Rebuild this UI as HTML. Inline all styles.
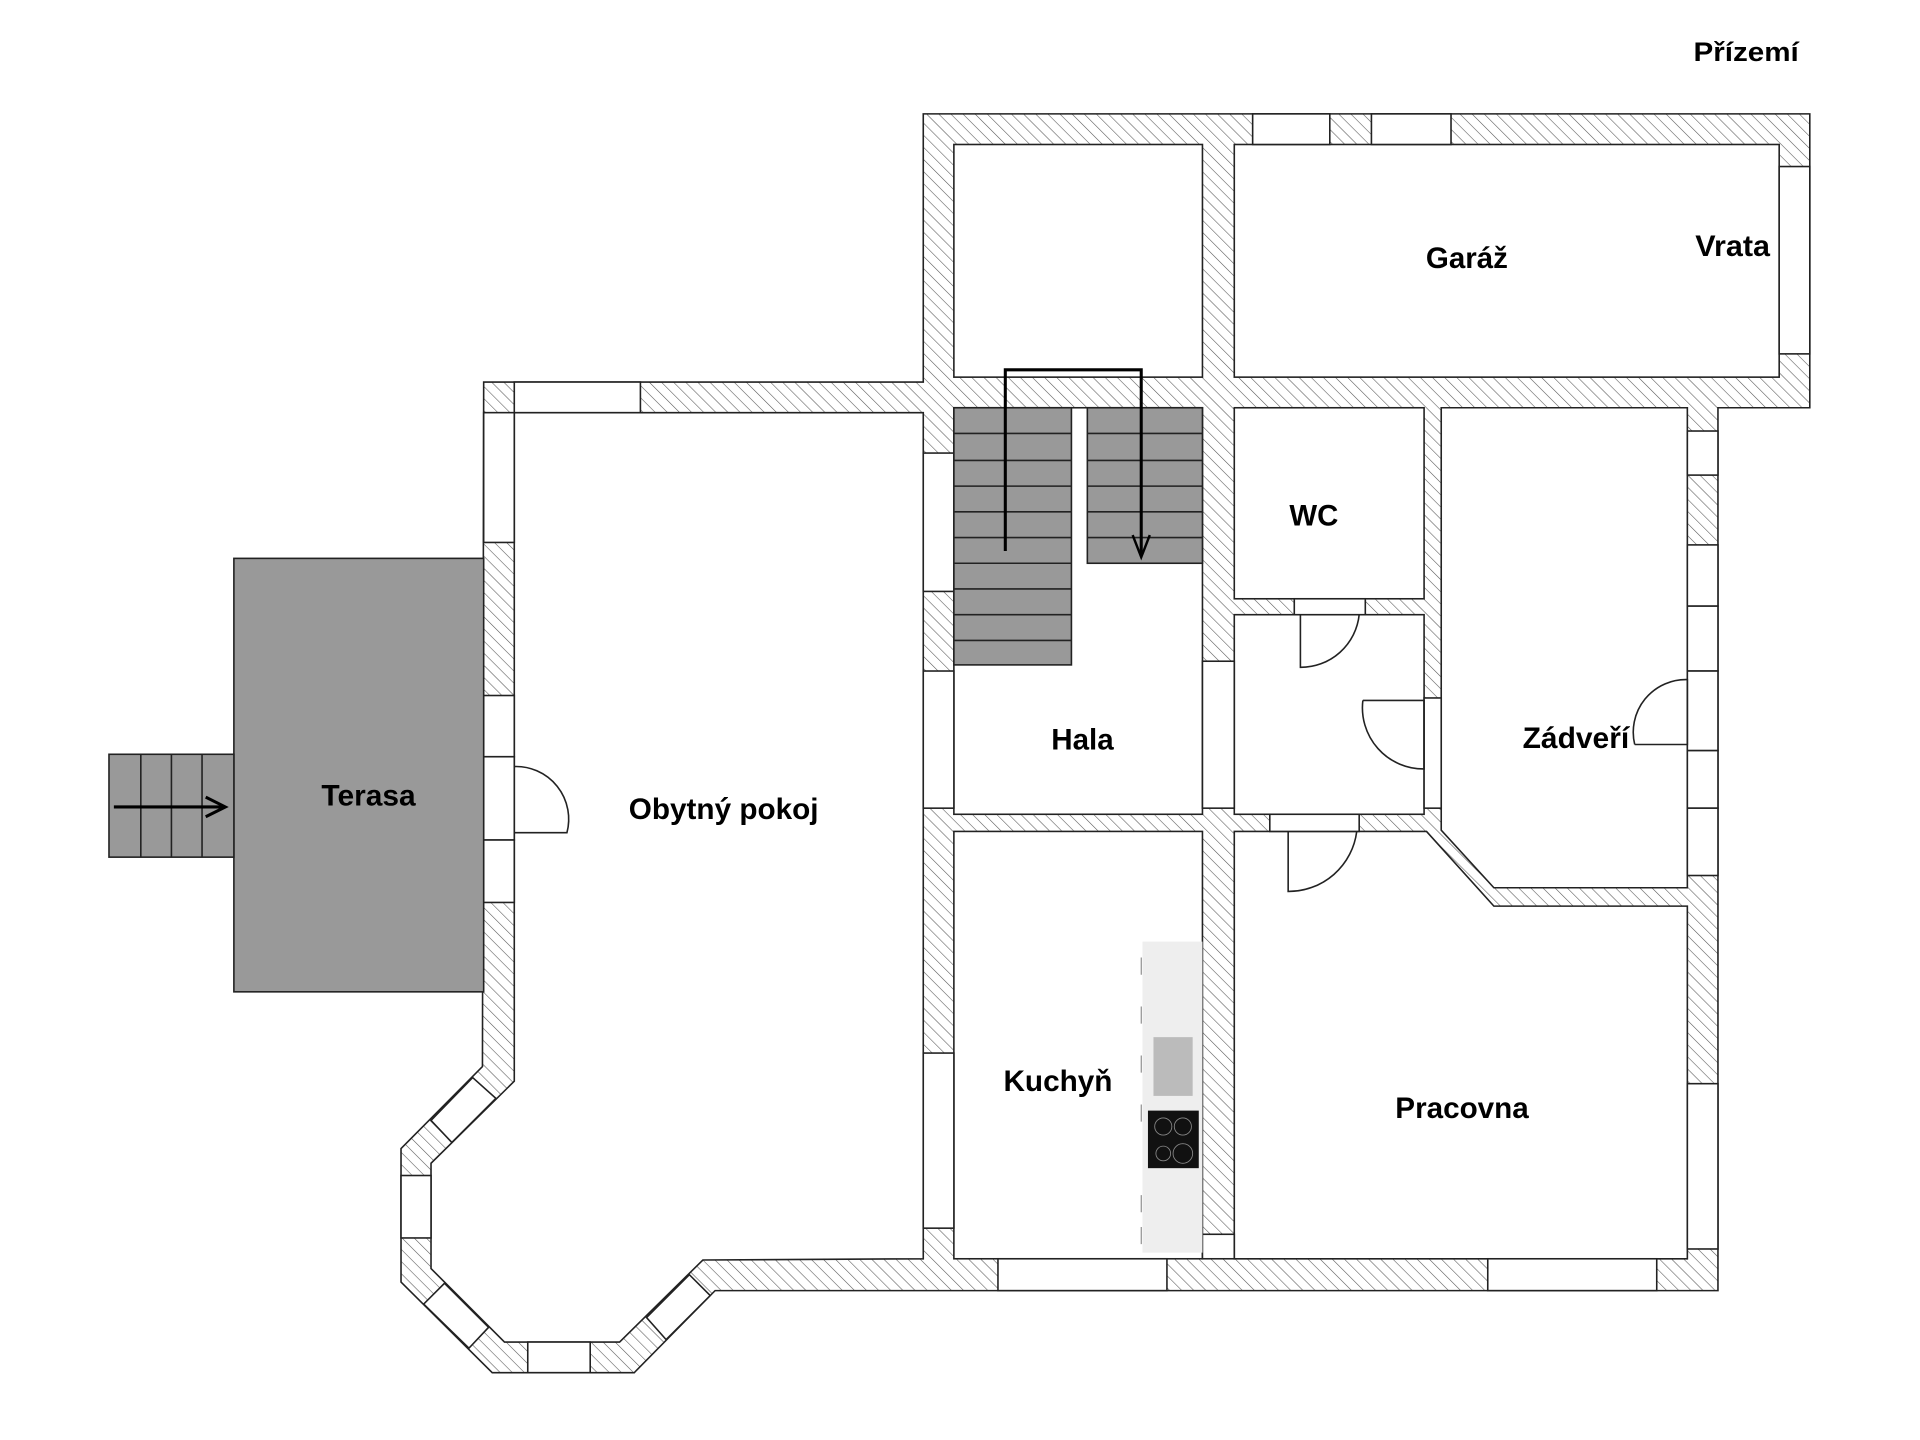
<!DOCTYPE html>
<html><head><meta charset="utf-8"><style>html,body{margin:0;padding:0;background:#fff}svg{display:block}</style></head><body>
<svg width="1920" height="1440" viewBox="0 0 1568 1176" preserveAspectRatio="none" xmlns="http://www.w3.org/2000/svg">
<defs><pattern id="h" width="7" height="7" patternUnits="userSpaceOnUse" patternTransform="rotate(-45)"><rect width="7" height="7" fill="#fff"/><line x1="0" y1="0" x2="0" y2="7" stroke="#555" stroke-width="0.9"/></pattern></defs>
<rect width="1568" height="1176" fill="#fff"/>
<g stroke="#222" stroke-width="1.3">
<polygon points="754,93 1478,93 1478,333 1403,333 1403,1054 584,1054 518,1121 402,1121 327.5,1047 327.5,938 394,871 395,312 754,312" fill="url(#h)"/>
<g fill="#fff">
<rect x="779" y="118" width="203" height="190"/>
<rect x="1008" y="118" width="445" height="190"/>
<polygon points="420,337 754,337 754,1028 574,1029 506,1096 412,1096 352,1036 352,950 420,883"/>
<rect x="779" y="333" width="203" height="332"/>
<rect x="1008" y="333" width="155" height="156"/>
<rect x="1008" y="502" width="155" height="163"/>
<polygon points="1177,333 1378,333 1378,725 1220,725 1177,678"/>
<rect x="779" y="679" width="203" height="349"/>
<polygon points="1008,679 1165,679 1220,740 1378,740 1378,1028 1008,1028"/>
<rect x="1023" y="93" width="63" height="25"/><rect x="1120" y="93" width="65" height="25"/>
<rect x="1453" y="136" width="25" height="153"/>
<rect x="420" y="312" width="103" height="25"/>
<rect x="395" y="337" width="25" height="106"/>
<rect x="395" y="568" width="25" height="50"/><rect x="395" y="618" width="25" height="68"/><rect x="395" y="686" width="25" height="51"/>
<rect x="327.5" y="960" width="24.5" height="51"/>
<rect x="431" y="1096" width="51" height="25"/>
<polygon points="386,880 405,897 369,933 352,915"/>
<polygon points="363,1048 399,1084 383,1101 346,1065"/>
<polygon points="528,1076 563,1041 580,1058 544,1094"/>
<rect x="754" y="370" width="25" height="113"/><rect x="754" y="548" width="25" height="112"/><rect x="754" y="860" width="25" height="143"/>
<rect x="1378" y="352" width="25" height="36"/>
<rect x="1378" y="445" width="25" height="50"/><rect x="1378" y="495" width="25" height="53"/><rect x="1378" y="548" width="25" height="65"/><rect x="1378" y="613" width="25" height="47"/><rect x="1378" y="660" width="25" height="55"/>
<rect x="1378" y="885" width="25" height="135"/>
<rect x="815" y="1028" width="138" height="26"/><rect x="1215" y="1028" width="138" height="26"/>
<rect x="982" y="540" width="26" height="120"/><rect x="1163" y="570" width="14" height="90"/>
<rect x="1057" y="489" width="58" height="13"/><rect x="1037" y="665" width="73" height="14"/>
<rect x="982" y="1008" width="26" height="20"/>
</g>
<g fill="none">
<path d="M420,626 A43,43 0 0 1 463,680 L420,680"/>
<path d="M1062,502 L1062,545 A48,48 0 0 0 1110,502"/>
<path d="M1113,572 L1163,572 L1163,628 A50,50 0 0 1 1113,572"/>
<path d="M1335,608 L1378,608 L1378,555 A43,43 0 0 0 1335,608"/>
<path d="M1052,679 L1052,728 A56,56 0 0 0 1108,679"/>
</g>
<rect x="191" y="456" width="204" height="354" fill="#999"/>
<rect x="89" y="616" width="102" height="84" fill="#999"/>
<line x1="115" y1="616" x2="115" y2="700"/><line x1="140" y1="616" x2="140" y2="700"/><line x1="165" y1="616" x2="165" y2="700"/>
<rect x="779" y="333" width="96" height="210" fill="#999"/>
<rect x="888" y="333" width="94" height="127" fill="#999"/>
<path d="M779,354H875M779,376H875M779,397H875M779,418H875M779,439H875M779,460H875M779,481H875M779,502H875M779,523H875M888,354H982M888,376H982M888,397H982M888,418H982M888,439H982"/>
</g>
<line x1="93" y1="659" x2="182" y2="659" stroke="#000" stroke-width="2.5"/>
<path d="M168,651 L184,659 L168,667" fill="none" stroke="#000" stroke-width="2.5"/>
<path d="M821,450 V302 H932 V453" fill="none" stroke="#000" stroke-width="2.5"/>
<path d="M925,437 L932,455 L939,437" fill="none" stroke="#000" stroke-width="2"/>
<rect x="933" y="769" width="49" height="254" fill="#eee"/>
<rect x="942" y="847" width="32" height="48" fill="#bbb"/>
<rect x="937.5" y="907" width="41.5" height="47" fill="#111"/>
<g fill="none" stroke="#888" stroke-width="0.7">
<circle cx="950" cy="920" r="7"/><circle cx="966" cy="920" r="7"/><circle cx="950" cy="942" r="6"/><circle cx="966" cy="942" r="8"/>
</g>
<g stroke="#777" stroke-width="0.8">
<path d="M932,782v14M932,822v14M932,862v14M932,902v14M932,976v14M932,1002v14"/>
</g>
<g font-family="Liberation Sans, sans-serif" font-weight="bold" font-size="24" fill="#000" text-anchor="middle" lengthAdjust="spacingAndGlyphs">
<text x="1426" y="50" font-size="22" textLength="86" lengthAdjust="spacingAndGlyphs">Přízemí</text>
<text x="1198" y="219" textLength="67" lengthAdjust="spacingAndGlyphs">Garáž</text>
<text x="1415" y="209" textLength="61" lengthAdjust="spacingAndGlyphs">Vrata</text>
<text x="1073" y="429" textLength="40" lengthAdjust="spacingAndGlyphs">WC</text>
<text x="884" y="612" textLength="51" lengthAdjust="spacingAndGlyphs">Hala</text>
<text x="1287" y="611" textLength="87" lengthAdjust="spacingAndGlyphs">Zádveří</text>
<text x="301" y="658" textLength="77" lengthAdjust="spacingAndGlyphs">Terasa</text>
<text x="591" y="669" textLength="155" lengthAdjust="spacingAndGlyphs">Obytný pokoj</text>
<text x="864" y="891" textLength="89" lengthAdjust="spacingAndGlyphs">Kuchyň</text>
<text x="1194" y="913" textLength="109" lengthAdjust="spacingAndGlyphs">Pracovna</text>
</g>
</svg>
</body></html>
